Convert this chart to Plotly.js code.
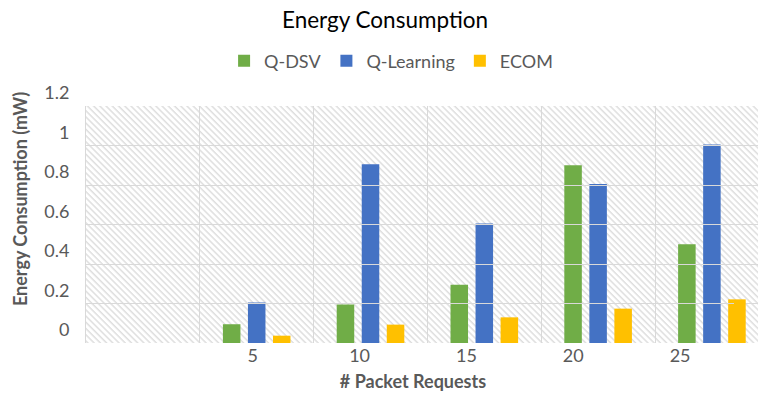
<!DOCTYPE html>
<html>
<head>
<meta charset="utf-8">
<script src="https://cdn.plot.ly/plotly-3.0.1.min.js"></script>
<style>html,body{margin:0;padding:0;background:#fff;}#chart{width:758px;height:400px;}</style>
</head>
<body>
<div id="chart"></div>
<script>
const xLabels = ["5", "10", "15", "20", "25"];
const qdsv = [0.095, 0.195, 0.295, 0.90, 0.50];
const qlearning = [0.205, 0.905, 0.605, 0.805, 1.005];
const ecom = [0.037, 0.093, 0.13, 0.174, 0.221];
const seriesNames = ["Q-DSV", "Q-Learning", "ECOM"];
const seriesColors = ["#70AD47", "#4472C4", "#FFC000"];
const yTicks = [0, 0.2, 0.4, 0.6, 0.8, 1, 1.2];

const FONT = "Lato, 'Open Sans', sans-serif";
const GRAY = "#595959";

const traces = [qdsv, qlearning, ecom].map((vals, i) => ({
  type: "bar",
  name: seriesNames[i],
  x: xLabels,
  y: vals,
  marker: {color: seriesColors[i]},
  hoverinfo: "x+y+name"
}));
// carriers for the label axes (draw nothing)
traces.push({
  type: "scatter", mode: "markers",
  x: xLabels.map((_, i) => i), y: xLabels.map(() => null),
  xaxis: "x2", yaxis: "y", showlegend: false, hoverinfo: "skip"
});
traces.push({
  type: "scatter", mode: "markers",
  x: xLabels, y: xLabels.map(() => null),
  xaxis: "x", yaxis: "y2", showlegend: false, hoverinfo: "skip"
});

// hatch background for the plot area
const W = 672, H = 237;
const svg = `<svg xmlns="http://www.w3.org/2000/svg" width="${W}" height="${H}" viewBox="0 0 ${W} ${H}">` +
  `<defs><pattern id="p" width="4.4" height="10" patternUnits="userSpaceOnUse" patternTransform="rotate(-45)">` +
  `<rect width="4.4" height="10" fill="#ffffff"/><line x1="1" y1="0" x2="1" y2="10" stroke="#dcdcdc" stroke-width="1.4"/></pattern></defs>` +
  `<rect width="${W}" height="${H}" fill="url(#p)"/></svg>`;
const bgSrc = "data:image/svg+xml;charset=utf-8," + encodeURIComponent(svg);

const layout = {
  width: 758, height: 400,
  margin: {l: 86, r: 0, t: 106, b: 57},
  paper_bgcolor: "#ffffff",
  plot_bgcolor: "rgba(0,0,0,0)",
  font: {family: FONT, color: GRAY, size: 16},
  title: {
    text: "Energy Consumption",
    font: {family: FONT, size: 22.5, color: "#000000"},
    x: 0.445, xanchor: "center", xref: "paper",
    y: 0.95, yanchor: "middle", yref: "container"
  },
  showlegend: true,
  legend: {
    orientation: "h", x: 0.454, xanchor: "center", y: 1.19, yanchor: "middle",
    font: {family: FONT, size: 18, color: GRAY},
    traceorder: "normal", itemwidth: 30
  },
  barmode: "group",
  bargap: 0.34,
  bargroupgap: 0.3,
  xaxis: {
    type: "category",
    categoryarray: xLabels,
    range: [-1.5, 4.405],
    tickson: "boundaries",
    showgrid: true, gridcolor: "#d9d9d9", gridwidth: 1,
    showticklabels: false, ticks: "",
    showline: false, zeroline: false,
    fixedrange: true
  },
  xaxis2: {
    anchor: "y",
    domain: [(92.5 - 86) / 672, (733.5 - 86) / 672],
    range: [-1.5, xLabels.length - 0.5],
    tickmode: "array",
    tickvals: xLabels.map((_, i) => i),
    ticktext: xLabels,
    showgrid: false, zeroline: false, showline: false, ticks: "",
    tickfont: {family: FONT, size: 18, color: GRAY},
    title: {text: "<b># Packet Requests</b>", font: {family: FONT, size: 18, color: GRAY}, standoff: 10}
  },
  yaxis: {
    range: [0, 1.2],
    tickmode: "array",
    tickvals: yTicks,
    ticktext: yTicks.map(v => String(v)),
    showgrid: true, gridcolor: "#d9d9d9", gridwidth: 1,
    zeroline: false,
    showline: true, linecolor: "#d9d9d9", linewidth: 1,
    ticks: "",
    ticklabelstandoff: 12,
    ticklabelshift: -13,
    tickfont: {family: FONT, size: 18, color: GRAY}
  },
  yaxis2: {
    anchor: "x",
    domain: [0.2152, 1],
    range: [0, 1],
    showgrid: false, zeroline: false, showline: false, ticks: "",
    showticklabels: false,
    title: {text: "<b>Energy Consumption (mW)</b>", font: {family: FONT, size: 18, color: GRAY}, standoff: 52}
  },
  images: [{
    source: bgSrc, xref: "paper", yref: "paper",
    x: 0, y: 1, sizex: 1, sizey: 1, xanchor: "left", yanchor: "top",
    sizing: "stretch", layer: "below"
  }]
};

Plotly.newPlot("chart", traces, layout, {displayModeBar: false, staticPlot: true});
</script>
</body>
</html>
